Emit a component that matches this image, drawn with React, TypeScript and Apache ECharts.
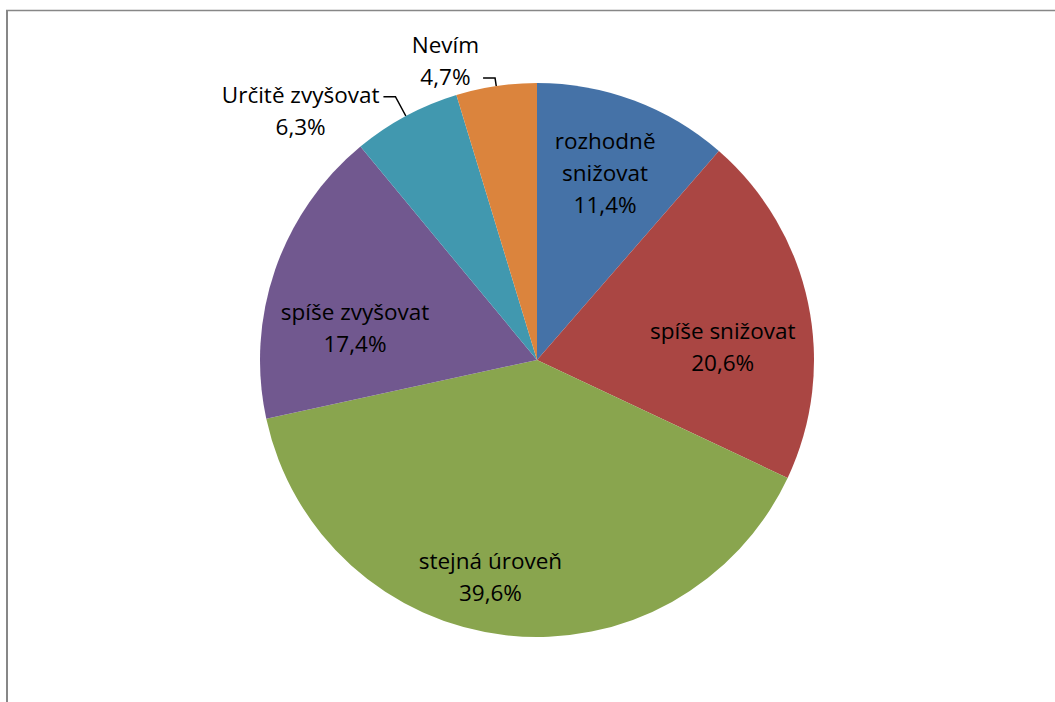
import React, { useEffect, useRef } from "react";
import * as echarts from "echarts";

const categories = [
  "rozhodně snižovat",
  "spíše snižovat",
  "stejná úroveň",
  "spíše zvyšovat",
  "Určitě zvyšovat",
  "Nevím",
];
const values = [11.4, 20.6, 39.6, 17.4, 6.3, 4.7];
const colors = ["#4572A7", "#AA4643", "#89A54E", "#71588F", "#4198AF", "#DB843D"];
const outside = [false, false, false, false, true, true];

// layout config
const CX = 537;
const CY = 360;
const R = 277;
const INNER_R = 200;
const INNER_NUDGE: number[][] = [[-2, 0], [-10, 28], [-24, 18], [7, 33], [0, 0], [0, 0]];
const OUTER_LEADER = [0, 0, 0, 0, 22, 8];
const OUTER_ANCHOR_LINE = [0, 0, 0, 0, 0, 1];
const LINE_H = 32;

const total = values.reduce((a, b) => a + b, 0);
const midAngles = values.map((v, i) => {
  const before = values.slice(0, i).reduce((a, b) => a + b, 0);
  return ((before + v / 2) / total) * 360;
});

const fmt = (v: number) => v.toFixed(1).replace(".", ",") + "%";

export default function App() {
  const ref = useRef<HTMLDivElement>(null);
  useEffect(() => {
    if (!ref.current) return;
    const chart = echarts.init(ref.current, null, { renderer: "svg" });
    chart.setOption({
      animation: false,
      backgroundColor: "#ffffff",
      graphic: [
        {
          type: "line",
          shape: { x1: 7, y1: 10, x2: 7, y2: 702 },
          style: { stroke: "#878787", lineWidth: 2 },
          silent: true,
        },
        {
          type: "line",
          shape: { x1: 6, y1: 10.5, x2: 1055, y2: 10.5 },
          style: { stroke: "#878787", lineWidth: 1.5 },
          silent: true,
        },
      ],
      series: [
        {
          type: "pie",
          center: [CX, CY],
          radius: R,
          startAngle: 90,
          clockwise: true,
          silent: true,
          emphasis: { disabled: true },
          itemStyle: { borderWidth: 0 },
          label: {
            show: true,
            position: "inside",
            color: "#000000",
            fontFamily: "Open Sans",
            fontSize: 22.5,
            lineHeight: LINE_H,
            align: "center",
            formatter: (p: any) => {
              const name = p.dataIndex === 0 ? p.name.replace(" ", "\n") : p.name;
              return name + "\n" + fmt(p.value);
            },
          },
          labelLine: { show: false },
          labelLayout: (params: any) => {
            const i = params.dataIndex;
            const a = (midAngles[i] * Math.PI) / 180;
            const s = Math.sin(a);
            const c = Math.cos(a);
            if (!outside[i]) {
              return {
                x: CX + INNER_R * s + INNER_NUDGE[i][0],
                y: CY - INNER_R * c + INNER_NUDGE[i][1],
                align: "center",
                verticalAlign: "middle",
              };
            }
            const ex = CX + R * s;
            const ey = CY - R * c;
            const bx = ex + OUTER_LEADER[i] * s;
            const by = ey - OUTER_LEADER[i] * c;
            const dir = s < 0 ? -1 : 1;
            const endX = bx + dir * 12;
            const w = params.labelRect.width;
            const x = endX + dir * (4 + w / 2);
            const anchorY = by - 2;
            const y = anchorY + LINE_H / 2 - LINE_H * OUTER_ANCHOR_LINE[i];
            return {
              x,
              y,
              align: "center",
              verticalAlign: "middle",
              labelLinePoints: [
                [ex, ey],
                [bx, by],
                [endX, by],
              ],
            };
          },
          data: categories.map((name, i) => ({
            name,
            value: values[i],
            itemStyle: { color: colors[i] },
            label: outside[i] ? { position: "outside" } : undefined,
            labelLine: outside[i]
              ? { show: true, lineStyle: { color: "#000000", width: 1.5 } }
              : undefined,
          })),
        },
      ],
    });
    return () => chart.dispose();
  }, []);
  return (
    <div
      ref={ref}
      style={{ position: "fixed", left: 0, top: 0, width: 1055, height: 702 }}
    />
  );
}
